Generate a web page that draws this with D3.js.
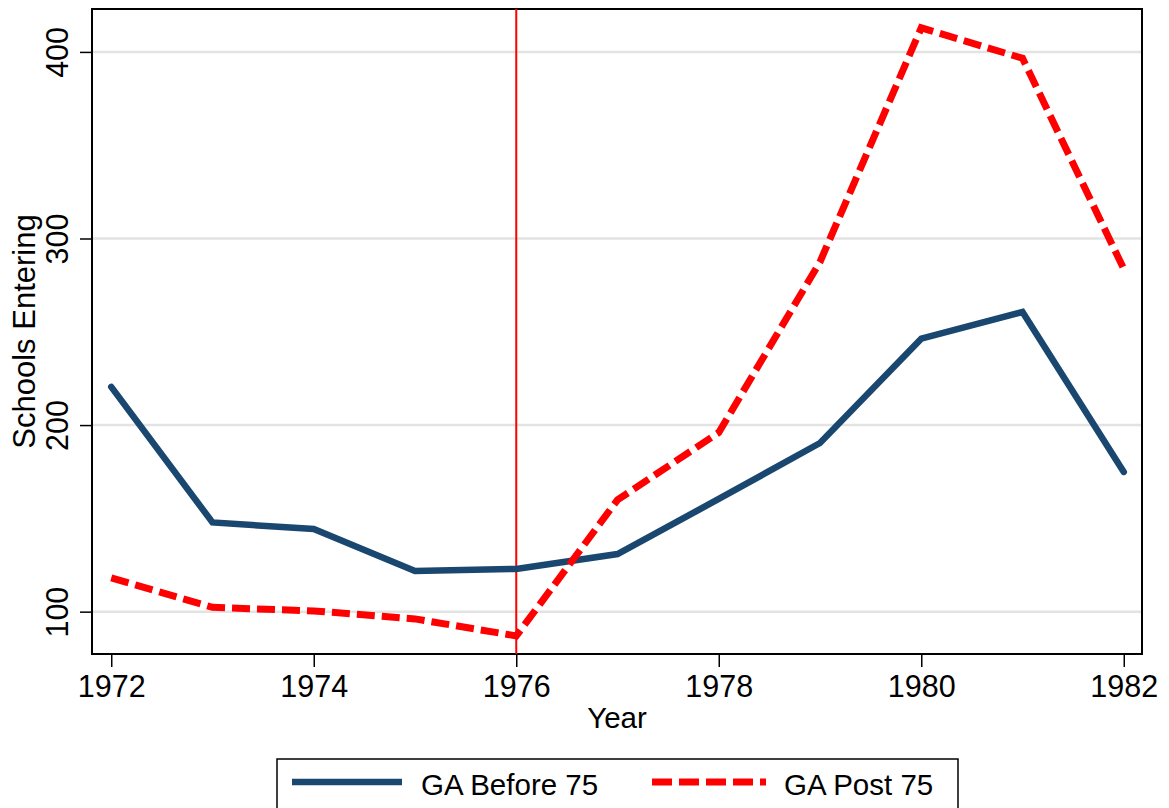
<!DOCTYPE html>
<html>
<head>
<meta charset="utf-8">
<script src="https://cdn.jsdelivr.net/npm/d3@7/dist/d3.min.js"></script>
<style>
  html, body { margin: 0; padding: 0; background: #fff; }
  svg { display: block; }
  text { font-family: "Liberation Sans", Arial, Helvetica, sans-serif; fill: #000; }
</style>
</head>
<body>
<svg id="chart" width="1169" height="808"></svg>
<script>
// ---- Data ----
const years = [1972, 1973, 1974, 1975, 1976, 1977, 1978, 1979, 1980, 1981, 1982];
const gaBefore75 = [220.5, 147.8, 144.3, 121.8, 122.9, 130.9, 160.4, 190.4, 246.3, 260.6, 174.9];
const gaPost75 = [118.1, 102.3, 100.4, 96.1, 87.0, 159.9, 196.0, 287.5, 412.9, 396.6, 283.7];
const xTicks = [1972, 1974, 1976, 1978, 1980, 1982];
const yTicks = [100, 200, 300, 400];
const seriesNames = ["GA Before 75", "GA Post 75"];
const cutoffYear = 1976;

// ---- Layout ----
const svg = d3.select("#chart");
const L = 92, R = 1142, T = 9, B = 654;

const x = d3.scaleLinear().domain([1971.81, 1982.18]).range([L, R]);
const y = d3.scaleLinear().domain([77.3, 423.0]).range([B, T]);

// gridlines
svg.append("g")
  .selectAll("line")
  .data(yTicks)
  .join("line")
  .attr("x1", L).attr("x2", R)
  .attr("y1", d => y(d)).attr("y2", d => y(d))
  .attr("stroke", "#e3e3e3")
  .attr("stroke-width", 2.5);

// axes
const xAxis = d3.axisBottom(x).tickValues(xTicks).tickFormat(d3.format("d")).tickSize(13).tickPadding(4);
const gx = svg.append("g").attr("transform", `translate(0,${B})`).call(xAxis);
gx.select(".domain").remove();
gx.selectAll(".tick line").attr("stroke", "#000").attr("stroke-width", 1.5);
gx.selectAll(".tick text").attr("font-size", 30.5).attr("dy", "0").attr("y", 43)
  .attr("font-family", "'Liberation Sans', Arial, sans-serif");

const yAxis = d3.axisLeft(y).tickValues(yTicks).tickFormat(d3.format("d")).tickSize(12);
const gy = svg.append("g").attr("transform", `translate(${L},0)`).call(yAxis);
gy.select(".domain").remove();
gy.selectAll(".tick line").attr("stroke", "#000").attr("stroke-width", 1.5);
gy.selectAll(".tick text")
  .attr("font-size", 30.5)
  .attr("font-family", "'Liberation Sans', Arial, sans-serif")
  .attr("x", null).attr("dy", null)
  .attr("text-anchor", "middle")
  .attr("transform", "translate(-24,0) rotate(-90)");

// frame
svg.append("rect")
  .attr("x", L).attr("y", T).attr("width", R - L).attr("height", B - T)
  .attr("fill", "none").attr("stroke", "#000").attr("stroke-width", 2);

// vertical cutoff line
svg.append("line")
  .attr("x1", x(cutoffYear)).attr("x2", x(cutoffYear))
  .attr("y1", T).attr("y2", B)
  .attr("stroke", "#ff0000").attr("stroke-width", 2);

// lines
const line = d3.line().x((d, i) => x(years[i])).y(d => y(d));

svg.append("path")
  .datum(gaBefore75)
  .attr("d", line)
  .attr("fill", "none")
  .attr("stroke", "#1a476f")
  .attr("stroke-width", 6.5)
  .attr("stroke-linejoin", "miter")
  .attr("stroke-linecap", "round");

svg.append("path")
  .datum(gaPost75)
  .attr("d", line)
  .attr("fill", "none")
  .attr("stroke", "#ff0000")
  .attr("stroke-width", 7)
  .attr("stroke-dasharray", "18,7")
  .attr("stroke-linejoin", "miter");

// axis titles
svg.append("text")
  .attr("x", (L + R) / 2).attr("y", 728)
  .attr("text-anchor", "middle")
  .attr("font-size", 29.5)
  .text("Year");

svg.append("text")
  .attr("transform", `translate(35,${(T + B) / 2}) rotate(-90)`)
  .attr("text-anchor", "middle")
  .attr("font-size", 31)
  .text("Schools Entering");

// legend
const lg = svg.append("g");
lg.append("rect")
  .attr("x", 277).attr("y", 759).attr("width", 681).attr("height", 60)
  .attr("fill", "#fff").attr("stroke", "#000").attr("stroke-width", 1.5);

const legendItems = [
  { name: seriesNames[0], color: "#1a476f", dash: null, w: 6.5, x0: 292, x1: 402, tx: 421 },
  { name: seriesNames[1], color: "#ff0000", dash: "20,7", w: 7, x0: 652, x1: 766, tx: 784 }
];
legendItems.forEach(it => {
  lg.append("line")
    .attr("x1", it.x0).attr("x2", it.x1)
    .attr("y1", 782).attr("y2", 782)
    .attr("stroke", it.color).attr("stroke-width", it.w)
    .attr("stroke-dasharray", it.dash);
  lg.append("text")
    .attr("x", it.tx).attr("y", 795)
    .attr("font-size", 29.5)
    .text(it.name);
});
</script>
</body>
</html>
